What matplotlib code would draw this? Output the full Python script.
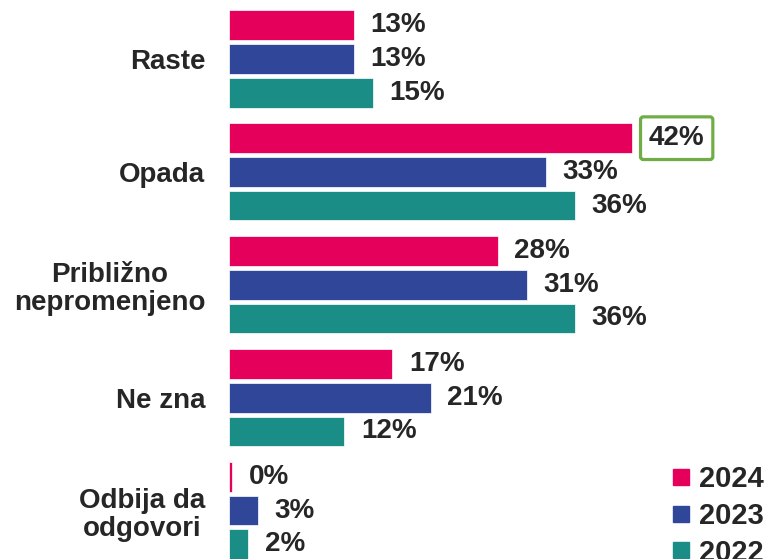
import matplotlib.pyplot as plt
import numpy as np
from matplotlib.lines import Line2D

plt.rcParams["font.family"] = ["Liberation Sans", "DejaVu Sans"]

categories = ["Raste", "Opada", "Približno\nnepromenjeno", "Ne zna", "Odbija da\nodgovori"]
years = ["2024", "2023", "2022"]
vals_2024 = [13, 42, 28, 17, 0.3]
vals_2023 = [13, 33, 31, 21, 3]
vals_2022 = [15, 36, 36, 12, 2]
colors = ["#E5005B", "#2F4699", "#1A8D86"]
TEXT = "#262626"
HIGHLIGHT = (1, 0)  # (grupa, serija) sa zelenim okvirom

fig = plt.figure(figsize=(7.65, 5.59), dpi=100)
ax = fig.add_axes([229 / 765, 0, 1 - 229 / 765, 1])

group_gap = 3.35
centers = np.arange(len(categories)) * group_gap
series = [vals_2024, vals_2023, vals_2022]

for j, (vals, c) in enumerate(zip(series, colors)):
    ys = centers + (j - 1)
    bars = ax.barh(ys, vals, height=0.88, color=c, edgecolor="white", linewidth=0.5)
    for i, (b, v) in enumerate(zip(bars, vals)):
        kw = {}
        if (i, j) == HIGHLIGHT:
            kw["bbox"] = dict(boxstyle="round,pad=0.3,rounding_size=0.1",
                              fc="white", ec="#70AD47", lw=2.3)
        ax.annotate(f"{v:.0f}%", (b.get_width(), b.get_y() + b.get_height() / 2),
                    xytext=(12, 0), textcoords="offset points",
                    ha="left", va="center", fontsize=20, fontweight="bold",
                    color=TEXT, **kw)

ax.set_xlim(0, 536 / 9.6)
ax.set_ylim((559 - 59) / 33.7, -59 / 33.7)
ax.set_yticks(centers)
ax.set_yticklabels(categories, fontsize=20, fontweight="bold", color=TEXT,
                   linespacing=1.1)
for t in ax.get_yticklabels():
    t.set_multialignment("center")
ax.tick_params(axis="y", length=0, pad=17)
ax.set_xticks([])
for s in ax.spines.values():
    s.set_visible(False)

handles = [Line2D([], [], marker="s", ls="none", color=c, markersize=11) for c in colors]
leg = ax.legend(handles, years, loc="lower right", bbox_to_anchor=(1.03, -0.045),
                frameon=False, handlelength=0.8, handletextpad=0.2,
                labelspacing=0.3, borderaxespad=0.2,
                prop={"size": 21, "weight": "bold"})
for t in leg.get_texts():
    t.set_color(TEXT)

fig.savefig("out.png", dpi=100)
